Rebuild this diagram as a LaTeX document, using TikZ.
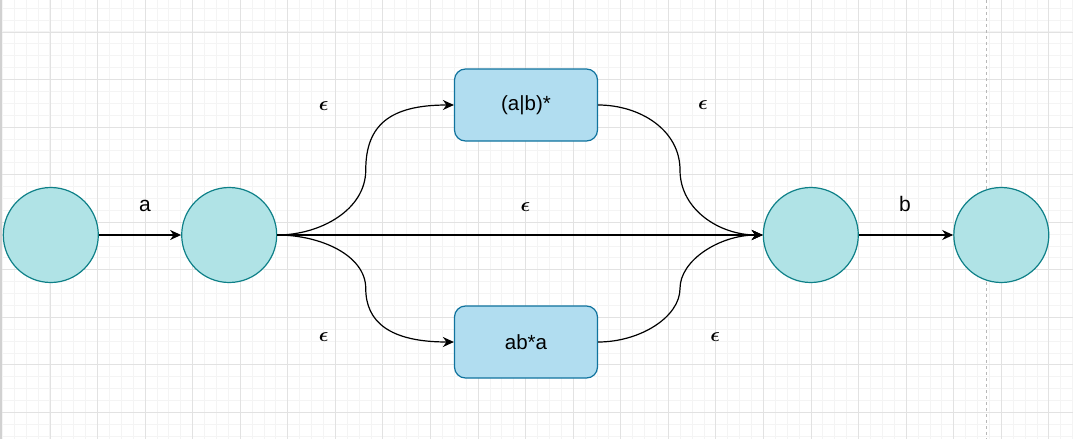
\documentclass[tikz,border=0pt]{standalone}
\usepackage{bm}
\usepackage{fontspec}
\setmainfont{Liberation Sans}
\usetikzlibrary{arrows.meta}
\definecolor{stfill}{HTML}{B0E3E6}
\definecolor{ststroke}{HTML}{0E8088}
\definecolor{bxfill}{HTML}{B1DDF0}
\definecolor{bxstroke}{HTML}{10739E}
\definecolor{gridminor}{HTML}{F4F4F4}
\definecolor{gridmajor}{HTML}{E2E2E2}
\newcommand{\epsl}{\scalebox{2.0}{$\bm{\epsilon}$}}
\tikzset{
  state/.style={circle, draw=ststroke, fill=stfill, line width=1.2pt, minimum size=95pt, inner sep=0pt},
  regbox/.style={rectangle, rounded corners=11pt, draw=bxstroke, fill=bxfill, line width=1.2pt,
    minimum width=143pt, minimum height=72pt, inner sep=0pt},
  arr/.style={line width=1.2pt, -{Stealth[length=11pt,width=10pt,inset=3.5pt]}},
  lbl/.style={inner sep=0pt},
  eps/.style={inner sep=0pt},
}
\begin{document}
\begin{tikzpicture}[x=1pt,y=-1pt]
\useasboundingbox (0,0) rectangle (1073,439);
\fill[white] (0,0) rectangle (1073,439);
% grid
\foreach \i in {0,...,90} {
  \draw[gridminor, line width=1pt] ({2.43+11.892*\i},0) -- ({2.43+11.892*\i},439);
}
\foreach \i in {0,...,37} {
  \draw[gridminor, line width=1pt] (0,{8.2+11.892*\i}) -- (1073,{8.2+11.892*\i});
}
\foreach \i in {0,...,22} {
  \draw[gridmajor, line width=1pt] ({50+47.57*\i},0) -- ({50+47.57*\i},439);
}
\foreach \i in {0,...,9} {
  \draw[gridmajor, line width=1pt] (0,{32+47.57*\i}) -- (1073,{32+47.57*\i});
}
\draw[black!18, line width=1.8pt] (1,0) -- (1,439);
\draw[black!28, line width=1pt, dash pattern=on 3pt off 3pt] (986,0) -- (986,439);

% states
\node[state] (s1) at (50.8,235) {};
\node[state] (s2) at (229.2,235) {};
\node[state] (s3) at (810.8,235) {};
\node[state] (s4) at (1001.3,235) {};

% boxes
\node[regbox] (b1) at (526,105) {\fontsize{20.5}{24}\selectfont (a|b)*};
\node[regbox] (b2) at (526,342) {\fontsize{20.5}{24}\selectfont ab*a};

% bend points
\coordinate (ml1) at (365.75,170);
\coordinate (ml2) at (365.75,288.5);
\coordinate (mr1) at (680,170);
\coordinate (mr2) at (680,288.5);

% connectors
\draw[arr] (s1) -- (s2);
\draw[arr] (s2) -- (s3);
\draw[arr] (s3) -- (s4);
\draw[arr] (s2.east) .. controls (320,235) and (365.75,210) .. (ml1)
   .. controls (365.75,125) and (390,105) .. (b1.west);
\draw[arr] (s2.east) .. controls (320,235) and (365.75,255) .. (ml2)
   .. controls (365.75,322) and (390,342) .. (b2.west);
\draw[arr] (b1.east) .. controls (640,105) and (680,130) .. (mr1)
   .. controls (680,210) and (720,235) .. (s3.west);
\draw[arr] (b2.east) .. controls (640,342) and (680,317) .. (mr2)
   .. controls (680,260) and (720,235) .. (s3.west);

% labels
\node[lbl] (la) at (145,205.5) {\fontsize{21}{25}\selectfont a};
\node[lbl] (lb) at (905,204) {\fontsize{21}{25}\selectfont b};
\node[eps] (e1) at (323.8,106) {\epsl};
\node[eps] (e2) at (703,105.5) {\epsl};
\node[eps] (e3) at (525.5,206.8) {\epsl};
\node[eps] (e4) at (323.8,337.5) {\epsl};
\node[eps] (e5) at (715.3,337) {\epsl};
\end{tikzpicture}
\end{document}
